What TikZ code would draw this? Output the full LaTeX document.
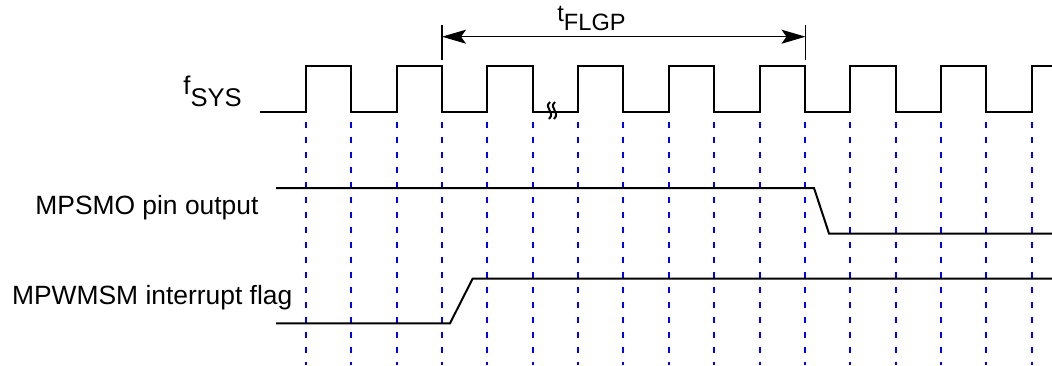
\documentclass[tikz,border=0pt]{standalone}
\usepackage{fontspec}
\setmainfont{Liberation Sans}
\usetikzlibrary{
  arrows.meta,
  positioning
}
\definecolor{EdgeBlue}{RGB}{0,0,255}
\tikzset{
  wave/.style={draw=black,line width=1pt,line join=miter},
  edgeline/.style={draw=EdgeBlue,line width=1pt,dash pattern=on 3pt off 4.5pt},
  siglabel/.style={anchor=base west,inner sep=0pt,font=\fontsize{13.2}{15}\selectfont},
  dimarrow/.style={{Stealth[length=12pt,width=7pt,inset=2.5pt]}-{Stealth[length=12pt,width=7pt,inset=2.5pt]},line width=0.6pt},
  dimtick/.style={line width=0.8pt}
}

\begin{document}
\begin{tikzpicture}[
  x=0.5pt, y=-0.5pt,
  breakmark/.style={line width=1pt}
]
\useasboundingbox (0,0) rectangle (1052,365);

% clock edges, dashed guides
\foreach \k in {0,...,16}
  \draw[edgeline] ({306+45.35*\k},121.7) -- ({306+45.35*\k},365);

% labels
\node[inner sep=0pt, anchor=base west, font=\fontsize{12.8}{15}\selectfont] (fsys) at (183,94) {f\raisebox{-6pt}{SYS}};
\node[siglabel] (mpsmo) at (35,214) {MPSMO pin output};
\node[siglabel] (mpwmsm) at (11.7,304) {MPWMSM interrupt flag};

% system clock
\draw[wave] (260,111.5) \foreach \k in {0,...,7}{
    -- ({306+90.7*\k},111.5) -- ++(0,-45.5) -- ++(45.35,0) -- ++(0,45.5)}
  -- (1031.6,111.5) -- (1031.6,66) -- (1052,66);
\draw[breakmark] (550,102) .. controls (543,108) and (556,112) .. (549,119);
\draw[breakmark] (555,102) .. controls (548,108) and (561,112) .. (554,119);

% flag period
\coordinate (tl) at (442,36.7);
\coordinate (tr) at (805.5,36.7);
\draw[dimtick] (442,25) -- (442,60);
\draw[dimtick] (805.5,25) -- (805.5,60);
\draw[dimarrow] (tl) -- (tr);
\node[inner sep=0pt, anchor=base west, font=\fontsize{11.8}{14}\selectfont] (tflgp) at (557,21) {t\raisebox{-4.6pt}{FLGP}};

% output pin and interrupt flag
\draw[wave] (276,188) -- (814,188) -- (829,233.5) -- (1052,233.5);
\draw[wave] (276,323.3) -- (450,323.3) -- (472.7,278.5) -- (1052,278.5);
\end{tikzpicture}
\end{document}
